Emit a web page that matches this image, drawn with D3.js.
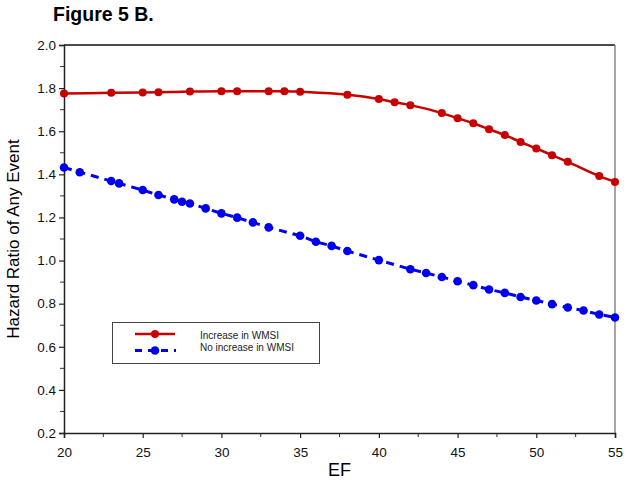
<!DOCTYPE html>
<html><head><meta charset="utf-8">
<script src="https://cdn.jsdelivr.net/npm/d3@7"></script>
<style>body{margin:0;background:#fff}svg{display:block;font-family:"Liberation Sans",Arial,sans-serif}</style>
</head><body><svg id="c" width="629" height="486"></svg>
<script>
const redX = [20,23,25,26,28,30,31,33,34,35,38,40,41,42,44,45,46,47,48,49,50,51,52,54,55];
const redY = [1.775,1.778,1.780,1.781,1.784,1.785,1.786,1.786,1.786,1.783,1.769,1.749,1.734,1.721,1.684,1.660,1.637,1.609,1.582,1.550,1.520,1.489,1.458,1.392,1.365];
const blueX = [20,21,23,23.5,25,26,27,27.5,28,29,30,31,32,33,35,36,37,38,40,42,43,44,45,46,47,48,49,50,51,52,53,54,55];
const blueY = [1.432,1.410,1.369,1.358,1.327,1.304,1.284,1.273,1.265,1.242,1.219,1.199,1.177,1.154,1.115,1.087,1.068,1.044,1.002,0.960,0.942,0.924,0.904,0.886,0.866,0.850,0.831,0.815,0.798,0.782,0.768,0.750,0.736];
const xTicks = [20,25,30,35,40,45,50,55];
const yTicks = [0.2,0.4,0.6,0.8,1.0,1.2,1.4,1.6,1.8,2.0];
const seriesNames = ["Increase in WMSI","No increase in WMSI"];

const svg = d3.select("#c");
const L=64, R=615, T=45, B=433;
const x = d3.scaleLinear().domain([20,55]).range([L,R]);
const y = d3.scaleLinear().domain([0.2,2.0]).range([B,T]);
const red="#c80000", blue="#0000f0";

// title
svg.append("text").attr("x",53).attr("y",21).attr("font-size",19.5).attr("font-weight","bold").text("Figure 5 B.");

// frame
svg.append("line").attr("x1",L).attr("x2",R).attr("y1",T).attr("y2",T).attr("stroke","#111").attr("stroke-width",1.5);
svg.append("line").attr("x1",R).attr("x2",R).attr("y1",T).attr("y2",B).attr("stroke","#888").attr("stroke-width",1.5);

// minor ticks
const xMinor = d3.range(22.5,55,5);
svg.append("g").selectAll("line").data(xMinor).join("line")
  .attr("x1",d=>x(d)).attr("x2",d=>x(d)).attr("y1",B).attr("y2",B+4).attr("stroke","#333").attr("stroke-width",1);
const yMinor = d3.range(0.3,2.0,0.2);
svg.append("g").selectAll("line").data(yMinor).join("line")
  .attr("x1",L-4).attr("x2",L).attr("y1",d=>y(d)).attr("y2",d=>y(d)).attr("stroke","#333").attr("stroke-width",1);

const xa = svg.append("g").attr("transform",`translate(0,${B})`)
  .call(d3.axisBottom(x).tickValues(xTicks).tickFormat(d3.format("d")).tickSize(5).tickPadding(9));
const ya = svg.append("g").attr("transform",`translate(${L},0)`)
  .call(d3.axisLeft(y).tickValues(yTicks).tickFormat(d3.format(".1f")).tickSize(5).tickPadding(3));
[xa,ya].forEach(g=>{
  g.select(".domain").attr("stroke","#222").attr("stroke-width",1.5);
  g.selectAll(".tick line").attr("stroke","#222").attr("stroke-width",1.2);
  g.selectAll("text").attr("font-size",13.5).attr("fill","#111").attr("font-family","Liberation Sans, Arial, sans-serif");
});

// axis labels
svg.append("text").attr("x",(L+R)/2).attr("y",476).attr("text-anchor","middle").attr("font-size",18).text("EF");
svg.append("text").attr("transform",`translate(19,${(T+B)/2}) rotate(-90)`).attr("text-anchor","middle").attr("font-size",17).text("Hazard Ratio of Any Event");

// lines
const redData = redX.map((d,i)=>[d,redY[i]]);
const blueData = blueX.map((d,i)=>[d,blueY[i]]);
const line = d3.line().x(d=>x(d[0])).y(d=>y(d[1]));
svg.append("path").datum(blueData).attr("d",line.curve(d3.curveLinear)).attr("fill","none").attr("stroke",blue).attr("stroke-width",3).attr("stroke-dasharray","8,6");
svg.append("g").selectAll("circle").data(blueData).join("circle")
  .attr("cx",d=>x(d[0])).attr("cy",d=>y(d[1])).attr("r",4.3).attr("fill",blue);
svg.append("path").datum(redData).attr("d",d3.line().x(d=>x(d[0])).y(d=>y(d[1])).curve(d3.curveMonotoneX)).attr("fill","none").attr("stroke",red).attr("stroke-width",2.5);
svg.append("g").selectAll("circle").data(redData).join("circle")
  .attr("cx",d=>x(d[0])).attr("cy",d=>y(d[1])).attr("r",4).attr("fill",red);

// legend
const lg = svg.append("g");
lg.append("rect").attr("x",112.5).attr("y",322.5).attr("width",207).attr("height",41).attr("fill","#fff").attr("stroke","#444").attr("stroke-width",1);
lg.append("line").attr("x1",135).attr("x2",175).attr("y1",334).attr("y2",334).attr("stroke",red).attr("stroke-width",2.5);
lg.append("circle").attr("cx",155).attr("cy",334).attr("r",4).attr("fill",red);
lg.append("line").attr("x1",135).attr("x2",176).attr("y1",350.5).attr("y2",350.5).attr("stroke",blue).attr("stroke-width",3).attr("stroke-dasharray","7,6");
lg.append("circle").attr("cx",155).attr("cy",350.5).attr("r",4.3).attr("fill",blue);
lg.selectAll("text.l").data(seriesNames).join("text").attr("class","l")
  .attr("x",200).attr("y",(d,i)=>339+i*11.5).attr("font-size",10).attr("fill","#222").text(d=>d);
</script></body></html>
